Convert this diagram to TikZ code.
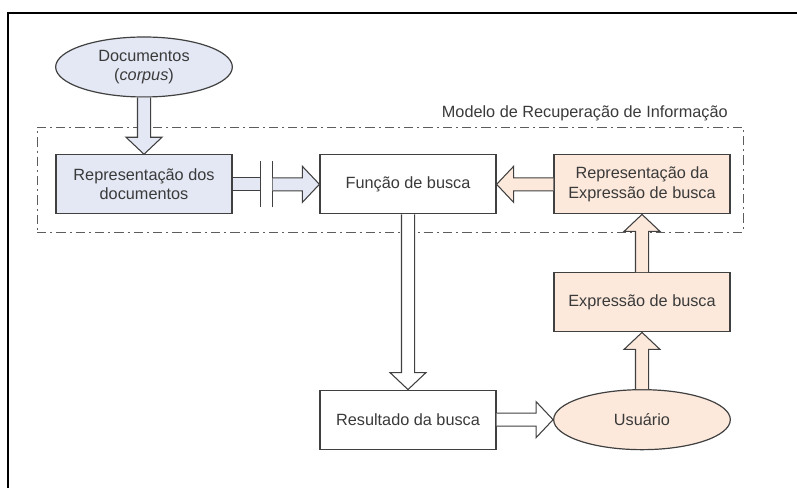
\documentclass[tikz,border=0pt]{standalone}
\usepackage{fontspec}
\setmainfont{Liberation Sans}
\usetikzlibrary{positioning,shapes.geometric,calc}

\definecolor{docblue}{HTML}{E3E8F4}
\definecolor{userpeach}{HTML}{FCE9DC}
\definecolor{linegray}{HTML}{404040}
\definecolor{textgray}{HTML}{3A3A3A}

% hollow block arrow: fill, from, to
\newcommand{\blockarrow}[3]{%
  \draw[blockline,fill=#1] let \p1=(#2), \p2=(#3), \p3=($(\p2)!12.75pt!(\p1)$) in
    ($(\p1)!4.9pt!90:(\p2)$) -- ($(\p3)!4.9pt!90:(\p2)$) -- ($(\p3)!13.5pt!90:(\p2)$) -- (\p2)
    -- ($(\p3)!13.5pt!-90:(\p2)$) -- ($(\p3)!4.9pt!-90:(\p2)$) -- ($(\p1)!4.9pt!-90:(\p2)$);}
% block shaft without head: fill, from, to
\newcommand{\blockshaft}[3]{%
  \fill[#1] let \p1=(#2), \p2=(#3) in
    ($(\p1)!4.9pt!90:(\p2)$) -- ($(\p2)!4.9pt!-90:(\p1)$) -- ($(\p2)!4.9pt!90:(\p1)$) -- ($(\p1)!4.9pt!-90:(\p2)$) -- cycle;
  \draw[blockline] let \p1=(#2), \p2=(#3) in
    ($(\p1)!4.9pt!90:(\p2)$) -- ($(\p2)!4.9pt!-90:(\p1)$)
    ($(\p1)!4.9pt!-90:(\p2)$) -- ($(\p2)!4.9pt!90:(\p1)$);}

\begin{document}
\begin{tikzpicture}[x=0.75pt,y=-0.75pt,font=\fontsize{12.2}{14.5}\selectfont,
  procbox/.style={draw=linegray,line width=0.9pt,minimum width=132pt,minimum height=44.25pt,
    inner sep=2pt,align=center,text=textgray},
  ovalnode/.style={procbox,ellipse,minimum width=132.5pt,minimum height=45pt},
  blockline/.style={draw=linegray,line width=0.8pt,line join=miter},
  modelframe/.style={draw=linegray!85,line width=0.6pt,dash pattern=on 7pt off 3pt on 1.5pt off 3pt,
    minimum width=529.5pt,minimum height=78.75pt,inner sep=0pt}]
  \useasboundingbox (0,0) rectangle (797,488);
  \draw[line width=1.6pt] (8,488) -- (8,13) -- (797,13);

  \node[modelframe] (modelo) at (390,179.5) {};
  \node[anchor=base east,text=textgray] (modellabel) at ($(modelo.north east)+(-11,-9)$) {Modelo de Recuperação de Informação};

  \node[ovalnode,fill=docblue] (docs) at (144,67) {Documentos\\(\textit{corpus})};
  \node[procbox,fill=docblue,below of=docs,node distance=88pt] (repr) {Representação dos\\documentos};
  \node[procbox,fill=white,right of=repr,node distance=198pt] (busca) {Função de busca};
  \node[procbox,fill=userpeach,right of=busca,node distance=175.5pt] (reprexpr) {Representação da\\Expressão de busca};
  \node[procbox,fill=userpeach,below of=reprexpr,node distance=88.5pt] (expr) {Expressão de busca};
  \node[ovalnode,fill=userpeach,below of=expr,node distance=88pt] (usuario) {Usuário};
  \node[procbox,fill=white,left of=usuario,node distance=175.5pt] (resultado) {Resultado da busca};

  \coordinate (cutA) at ($(repr.east)+(28,0)$);
  \coordinate (cutB) at ($(cutA)+(12,0)$);

  \blockarrow{docblue}{docs.south}{repr.north}
  \blockshaft{docblue}{repr.east}{cutA}
  \draw[blockline] ($(cutA)!17.25pt!90:(cutB)$) -- ($(cutA)!17.25pt!-90:(cutB)$);
  \draw[blockline] ($(cutB)!17.25pt!90:(cutA)$) -- ($(cutB)!17.25pt!-90:(cutA)$);
  \blockarrow{docblue}{cutB}{busca.west}
  \blockarrow{userpeach}{reprexpr.west}{busca.east}
  \blockarrow{white}{busca.south}{resultado.north}
  \blockarrow{white}{resultado.east}{usuario.west}
  \blockarrow{userpeach}{usuario.north}{expr.south}
  \blockarrow{userpeach}{expr.north}{reprexpr.south}
\end{tikzpicture}
\end{document}
